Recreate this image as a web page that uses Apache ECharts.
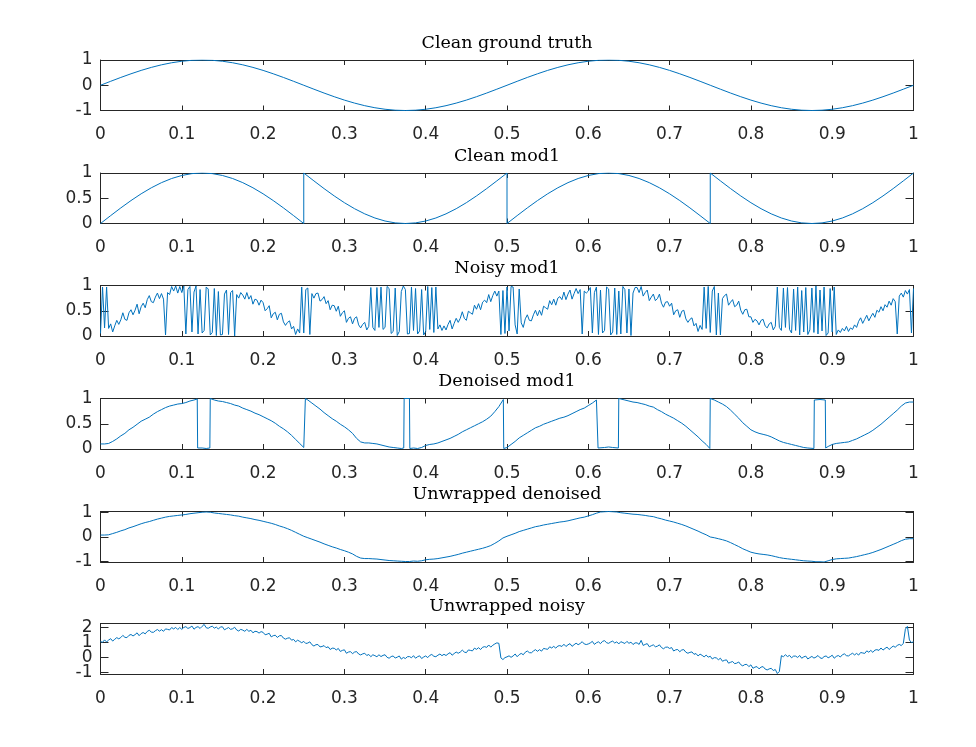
<!DOCTYPE html>
<html><head><meta charset="utf-8">
<script src="https://cdn.jsdelivr.net/npm/echarts@6/dist/echarts.min.js"></script>
<style>html,body{margin:0;padding:0;background:#fff;}#c{width:976px;height:747px;}</style>
</head><body><div id="c"></div>
<script>
// ---------------- data ----------------
const titles = ['Clean ground truth','Clean mod1','Noisy mod1','Denoised mod1','Unwrapped denoised','Unwrapped noisy'];
const yRanges = [[-1,1],[0,1],[0,1],[0,1],[-1.02,1.04],[-1.11,2.25]];
const yTickValues = [[-1,0,1],[0,0.5,1],[0,0.5,1],[0,0.5,1],[-1,0,1],[-1,0,1,2]];

// clean ground truth, 81 evenly spaced samples on [0,1]
const cleanTruth = [
 0,.156,.309,.454,.588,.707,.809,.891,.951,.988,1,.988,.951,.891,.809,.707,.588,.454,.309,.156,
 0,-.156,-.309,-.454,-.588,-.707,-.809,-.891,-.951,-.988,-1,-.988,-.951,-.891,-.809,-.707,-.588,-.454,-.309,-.156,
 0,.156,.309,.454,.588,.707,.809,.891,.951,.988,1,.988,.951,.891,.809,.707,.588,.454,.309,.156,
 0,-.156,-.309,-.454,-.588,-.707,-.809,-.891,-.951,-.988,-1,-.988,-.951,-.891,-.809,-.707,-.588,-.454,-.309,-.156,0];

// clean mod1, [x, y] pairs (wrap jumps are vertical)
const cleanMod1 = [
 [0,0],[0.0125,.156],[0.025,.309],[0.0375,.454],[0.05,.588],[0.0625,.707],[0.075,.809],[0.0875,.891],[0.1,.951],[0.1125,.988],
 [0.125,1],[0.1375,.988],[0.15,.951],[0.1625,.891],[0.175,.809],[0.1875,.707],[0.2,.588],[0.2125,.454],[0.225,.309],[0.2375,.156],
 [0.25,0],[0.25,1],[0.2625,.844],[0.275,.691],[0.2875,.546],[0.3,.412],[0.3125,.293],[0.325,.191],[0.3375,.109],[0.35,.049],[0.3625,.012],
 [0.375,0],[0.3875,.012],[0.4,.049],[0.4125,.109],[0.425,.191],[0.4375,.293],[0.45,.412],[0.4625,.546],[0.475,.691],[0.4875,.844],
 [0.5,1],[0.5,0],[0.5125,.156],[0.525,.309],[0.5375,.454],[0.55,.588],[0.5625,.707],[0.575,.809],[0.5875,.891],[0.6,.951],[0.6125,.988],
 [0.625,1],[0.6375,.988],[0.65,.951],[0.6625,.891],[0.675,.809],[0.6875,.707],[0.7,.588],[0.7125,.454],[0.725,.309],[0.7375,.156],
 [0.75,0],[0.75,1],[0.7625,.844],[0.775,.691],[0.7875,.546],[0.8,.412],[0.8125,.293],[0.825,.191],[0.8375,.109],[0.85,.049],[0.8625,.012],
 [0.875,0],[0.8875,.012],[0.9,.049],[0.9125,.109],[0.925,.191],[0.9375,.293],[0.95,.412],[0.9625,.546],[0.975,.691],[0.9875,.844],[1,1]];

// noisy mod1, 401 evenly spaced samples on [0,1]
const noisyMod1 = [
 0.05,0.97,0.16,0.97,0.15,0.24,0.08,0.20,0.31,0.23,
 0.32,0.46,0.33,0.31,0.46,0.52,0.42,0.51,0.63,0.44,
 0.58,0.65,0.56,0.72,0.80,0.68,0.66,0.77,0.85,0.74,
 0.84,0.73,0.02,0.86,0.82,0.98,0.89,0.99,0.85,0.98,
 0.86,0.99,0.04,0.92,0.98,0.08,0.87,0.99,0.04,0.92,
 0.06,0.11,0.97,0.93,0.02,0.07,0.94,0.01,0.88,0.02,
 0.03,0.83,0.91,0.03,0.86,0.90,0.00,0.82,0.75,0.86,
 0.81,0.73,0.86,0.73,0.80,0.63,0.73,0.71,0.61,0.71,
 0.66,0.50,0.54,0.60,0.36,0.44,0.47,0.32,0.43,0.45,
 0.28,0.21,0.27,0.30,0.14,0.19,0.03,0.14,0.06,0.97,
 0.06,0.92,0.95,0.03,0.84,0.75,0.84,0.85,0.69,0.72,
 0.78,0.64,0.70,0.52,0.61,0.60,0.49,0.59,0.39,0.46,
 0.50,0.27,0.35,0.38,0.24,0.35,0.38,0.22,0.16,0.23,
 0.27,0.12,0.19,0.96,0.17,0.11,0.96,0.17,0.97,0.13,
 0.17,0.98,0.94,0.05,0.09,0.95,0.01,0.09,0.88,0.99,
 0.92,0.04,0.05,0.97,0.11,0.94,0.04,0.10,0.92,0.02,
 0.09,0.98,0.13,0.96,0.07,0.97,0.14,0.22,0.11,0.20,
 0.12,0.23,0.31,0.14,0.25,0.35,0.27,0.35,0.48,0.35,
 0.31,0.49,0.46,0.43,0.61,0.53,0.64,0.52,0.67,0.71,
 0.66,0.82,0.68,0.80,0.89,0.79,0.89,0.03,0.90,0.05,
 0.97,0.10,0.98,0.97,0.22,0.04,0.93,0.26,0.17,0.34,
 0.42,0.31,0.30,0.42,0.51,0.40,0.51,0.41,0.59,0.56,
 0.53,0.70,0.62,0.73,0.61,0.75,0.78,0.72,0.87,0.72,
 0.83,0.91,0.73,0.84,0.94,0.84,0.92,0.04,0.89,0.85,
 0.89,0.96,0.06,0.86,0.97,0.03,0.91,0.06,0.11,0.97,
 0.93,0.02,0.08,0.95,0.03,0.89,0.04,0.98,0.92,0.06,
 0.93,0.01,0.85,0.96,0.96,0.86,0.98,0.79,0.86,0.91,
 0.70,0.77,0.83,0.70,0.74,0.83,0.65,0.57,0.67,0.68,
 0.59,0.65,0.42,0.50,0.52,0.37,0.49,0.51,0.34,0.27,
 0.33,0.36,0.20,0.25,0.09,0.21,0.13,0.97,0.15,0.98,
 0.07,0.89,0.98,0.02,0.85,0.02,0.74,0.80,0.83,0.61,
 0.67,0.72,0.58,0.61,0.69,0.51,0.43,0.52,0.53,0.38,
 0.38,0.27,0.33,0.30,0.22,0.31,0.33,0.20,0.16,0.24,
 0.27,0.12,0.19,0.97,0.17,0.11,0.95,0.17,0.96,0.13,
 0.06,0.93,0.11,0.97,0.02,0.90,0.08,0.96,0.03,0.12,
 0.95,0.07,0.99,0.04,0.91,0.10,0.97,0.01,0.06,0.94,
 0.08,0.97,0.03,0.12,0.07,0.15,0.10,0.19,0.09,0.16,
 0.13,0.22,0.17,0.29,0.36,0.25,0.33,0.41,0.30,0.38,
 0.45,0.37,0.51,0.47,0.58,0.50,0.62,0.57,0.69,0.61,
 0.74,0.68,0.04,0.79,0.85,0.77,0.90,0.83,0.92,0.06,0.94];

// denoised mod1, [x, y] pairs
const denoisedMod1 = [
 [0,0.10],[0.005,0.10],[0.01,0.11],[0.015,0.15],[0.02,0.20],[0.025,0.26],[0.03,0.31],[0.035,0.38],[0.04,0.43],[0.045,0.49],
 [0.05,0.55],[0.055,0.59],[0.06,0.63],[0.065,0.69],[0.07,0.74],[0.075,0.78],[0.08,0.82],[0.085,0.85],[0.09,0.87],[0.095,0.89],
 [0.1,0.90],[0.105,0.92],[0.11,0.95],[0.115,0.97],[0.119,0.99],[0.1195,0.02],[0.125,0.02],[0.13,0.01],[0.1345,0.02],[0.135,1.0],
 [0.14,0.97],[0.145,0.95],[0.15,0.94],[0.155,0.92],[0.16,0.90],[0.165,0.87],[0.17,0.85],[0.175,0.81],[0.18,0.78],[0.185,0.75],
 [0.19,0.71],[0.195,0.68],[0.2,0.64],[0.205,0.60],[0.21,0.56],[0.215,0.51],[0.22,0.45],[0.225,0.40],[0.23,0.34],[0.235,0.27],
 [0.24,0.19],[0.245,0.11],[0.25,0.03],[0.2515,0.0],[0.252,1.0],[0.255,0.97],[0.26,0.91],[0.265,0.85],[0.27,0.79],[0.275,0.72],
 [0.28,0.66],[0.285,0.60],[0.29,0.55],[0.295,0.49],[0.3,0.44],[0.305,0.38],[0.31,0.31],[0.315,0.21],[0.32,0.14],[0.325,0.12],
 [0.33,0.12],[0.335,0.11],[0.34,0.10],[0.345,0.08],[0.35,0.06],[0.355,0.04],[0.36,0.03],[0.365,0.02],[0.37,0.01],[0.373,0.02],
 [0.3735,1.0],[0.38,1.0],[0.3805,0.01],[0.385,0.02],[0.39,0.01],[0.395,0.03],[0.4,0.07],[0.405,0.09],[0.41,0.10],[0.415,0.12],
 [0.42,0.15],[0.425,0.18],[0.43,0.21],[0.435,0.25],[0.44,0.29],[0.445,0.34],[0.45,0.38],[0.455,0.42],[0.46,0.46],[0.465,0.50],
 [0.47,0.54],[0.475,0.59],[0.48,0.65],[0.485,0.74],[0.49,0.84],[0.4955,0.98],[0.496,0.01],[0.5,0.03],[0.505,0.09],[0.51,0.15],
 [0.515,0.22],[0.52,0.27],[0.525,0.32],[0.53,0.37],[0.535,0.42],[0.54,0.45],[0.545,0.49],[0.55,0.52],[0.555,0.55],[0.56,0.58],
 [0.565,0.61],[0.57,0.63],[0.575,0.66],[0.58,0.70],[0.585,0.74],[0.59,0.78],[0.595,0.81],[0.6,0.86],[0.605,0.91],[0.61,0.97],
 [0.6115,0.99],[0.612,0.02],[0.62,0.03],[0.625,0.04],[0.63,0.03],[0.637,0.02],[0.6375,1.0],[0.64,0.99],[0.645,0.97],[0.65,0.95],
 [0.655,0.93],[0.66,0.92],[0.665,0.90],[0.67,0.88],[0.675,0.85],[0.68,0.83],[0.685,0.78],[0.69,0.74],[0.695,0.69],[0.7,0.65],
 [0.705,0.61],[0.71,0.56],[0.715,0.51],[0.72,0.45],[0.725,0.38],[0.73,0.31],[0.735,0.24],[0.74,0.16],[0.745,0.09],[0.7495,0.01],
 [0.75,1.0],[0.755,0.97],[0.76,0.93],[0.765,0.89],[0.77,0.84],[0.775,0.77],[0.78,0.69],[0.785,0.61],[0.79,0.52],[0.795,0.45],
 [0.8,0.38],[0.805,0.34],[0.81,0.31],[0.815,0.29],[0.82,0.27],[0.825,0.24],[0.83,0.20],[0.835,0.16],[0.84,0.13],[0.845,0.11],
 [0.85,0.09],[0.855,0.07],[0.86,0.05],[0.865,0.03],[0.87,0.02],[0.8775,0.01],[0.878,0.97],[0.885,0.98],[0.8915,0.97],[0.892,0.02],
 [0.895,0.05],[0.9,0.09],[0.905,0.11],[0.91,0.12],[0.915,0.13],[0.92,0.14],[0.925,0.17],[0.93,0.20],[0.935,0.24],[0.94,0.28],
 [0.945,0.32],[0.95,0.37],[0.955,0.43],[0.96,0.49],[0.965,0.56],[0.97,0.63],[0.975,0.70],[0.98,0.77],[0.985,0.85],[0.99,0.91],
 [0.995,0.93],[1.0,0.93]];

// unwrapped denoised, 201 evenly spaced samples on [0,1]
const unwrappedDenoised = [
 0.08,0.08,0.09,0.14,0.19,0.25,0.30,0.37,0.42,0.48,
 0.54,0.59,0.63,0.68,0.73,0.77,0.81,0.84,0.86,0.88,
 0.90,0.92,0.95,0.97,0.99,1.01,1.02,1.01,0.98,0.96,
 0.94,0.92,0.90,0.87,0.85,0.81,0.78,0.75,0.71,0.68,
 0.64,0.60,0.56,0.51,0.45,0.40,0.34,0.27,0.19,0.11,
 0.03,-0.03,-0.09,-0.15,-0.21,-0.28,-0.34,-0.40,-0.45,-0.51,
 -0.56,-0.62,-0.69,-0.79,-0.86,-0.88,-0.88,-0.89,-0.90,-0.92,
 -0.94,-0.96,-0.97,-0.98,-0.99,-1.00,-1.00,-0.98,-0.99,-0.97,
 -0.93,-0.91,-0.90,-0.88,-0.85,-0.82,-0.79,-0.75,-0.71,-0.66,
 -0.62,-0.58,-0.54,-0.50,-0.46,-0.41,-0.35,-0.26,-0.16,-0.04,
 0.03,0.09,0.15,0.22,0.27,0.32,0.37,0.42,0.45,0.49,
 0.52,0.55,0.58,0.61,0.63,0.66,0.70,0.74,0.78,0.81,
 0.86,0.91,0.97,1.02,1.03,1.04,1.03,1.02,0.99,0.97,
 0.95,0.93,0.92,0.90,0.88,0.85,0.83,0.78,0.74,0.69,
 0.65,0.61,0.56,0.51,0.45,0.38,0.31,0.24,0.16,0.09,
 0.00,-0.03,-0.07,-0.11,-0.16,-0.23,-0.31,-0.39,-0.48,-0.55,
 -0.62,-0.66,-0.69,-0.71,-0.73,-0.76,-0.80,-0.84,-0.87,-0.89,
 -0.91,-0.93,-0.95,-0.97,-0.98,-0.99,-1.01,-1.01,-1.02,-0.97,
 -0.92,-0.89,-0.88,-0.87,-0.86,-0.83,-0.80,-0.76,-0.72,-0.68,
 -0.63,-0.57,-0.51,-0.44,-0.37,-0.30,-0.23,-0.15,-0.09,-0.07,
 -0.07];

// unwrapped noisy, 401 evenly spaced samples on [0,1]
const unwrappedNoisy = [
 1.05,1.00,1.16,1.02,1.15,1.24,1.08,1.20,1.31,1.23,
 1.32,1.46,1.33,1.31,1.46,1.52,1.42,1.51,1.63,1.44,
 1.58,1.65,1.56,1.72,1.80,1.68,1.66,1.77,1.85,1.74,
 1.84,1.73,1.89,1.86,1.82,1.98,1.89,1.99,1.85,1.98,
 1.86,1.99,2.04,1.92,1.98,2.08,1.87,1.99,2.04,1.92,
 2.06,2.19,1.97,1.93,2.02,2.07,1.94,2.01,1.88,2.02,
 2.03,1.83,1.91,1.98,1.86,1.90,2.00,1.82,1.75,1.86,
 1.81,1.73,1.86,1.73,1.80,1.63,1.73,1.71,1.61,1.71,
 1.66,1.50,1.54,1.60,1.36,1.44,1.47,1.32,1.43,1.45,
 1.28,1.21,1.27,1.30,1.14,1.19,1.03,1.14,1.06,0.97,
 1.06,0.92,0.95,1.03,0.84,0.75,0.84,0.85,0.69,0.72,
 0.78,0.64,0.70,0.52,0.61,0.60,0.49,0.59,0.39,0.46,
 0.50,0.27,0.35,0.38,0.24,0.35,0.38,0.22,0.16,0.23,
 0.27,0.12,0.19,0.04,0.17,0.11,0.04,0.17,0.05,0.13,
 0.17,0.00,-0.06,0.05,0.09,-0.05,0.01,0.09,-0.12,-0.01,
 -0.08,0.04,0.05,-0.03,0.11,-0.06,0.04,0.10,-0.08,0.02,
 0.09,-0.02,0.13,0.19,0.07,0.04,0.14,0.22,0.11,0.20,
 0.12,0.23,0.31,0.14,0.25,0.35,0.27,0.35,0.48,0.35,
 0.31,0.49,0.46,0.43,0.61,0.53,0.64,0.52,0.67,0.71,
 0.66,0.82,0.68,0.80,0.89,0.96,0.93,-0.04,-0.15,-0.02,
 0.03,0.10,0.00,0.09,0.22,0.04,0.18,0.26,0.17,0.34,
 0.42,0.31,0.30,0.42,0.51,0.40,0.51,0.41,0.59,0.56,
 0.53,0.70,0.62,0.73,0.61,0.75,0.78,0.72,0.87,0.72,
 0.83,0.91,0.73,0.84,0.94,0.84,0.92,1.04,0.89,0.85,
 0.89,0.96,1.06,0.86,0.97,1.03,0.91,1.06,1.11,0.97,
 0.93,1.02,1.08,0.95,1.03,0.89,1.04,0.98,0.92,1.06,
 0.93,1.01,0.85,0.96,0.96,0.86,1.13,0.79,0.86,0.91,
 0.70,0.77,0.83,0.70,0.74,0.83,0.65,0.57,0.67,0.68,
 0.59,0.65,0.42,0.50,0.52,0.37,0.49,0.51,0.34,0.27,
 0.33,0.36,0.20,0.25,0.09,0.21,0.13,0.03,0.15,0.01,
 0.07,-0.11,-0.02,-0.04,-0.16,-0.06,-0.26,-0.20,-0.17,-0.39,
 -0.33,-0.28,-0.42,-0.39,-0.31,-0.49,-0.57,-0.48,-0.47,-0.62,
 -0.50,-0.73,-0.65,-0.62,-0.77,-0.65,-0.62,-0.78,-0.84,-0.77,
 -0.73,-0.88,-0.81,-1.08,-0.94,0.11,0.04,0.17,0.05,0.13,
 -0.03,0.08,0.08,-0.01,0.12,-0.06,0.03,0.08,-0.11,-0.02,
 0.06,-0.05,0.01,0.12,-0.03,-0.08,0.05,0.09,-0.03,0.04,
 0.14,-0.06,0.06,0.12,0.02,0.17,0.23,0.11,0.09,0.19,
 0.27,0.16,0.26,0.15,0.32,0.29,0.26,0.43,0.34,0.46,
 0.33,0.48,0.51,0.46,0.62,0.48,0.59,0.68,0.52,0.64,
 0.75,0.67,0.79,0.86,0.78,0.93,1.87,2.06,1.15,0.98,1.03];

// ---------------- chart ----------------
// pair evenly spaced samples with their sample position on [0,1]
function sampled(values){ return values.map((v,i)=>[i/(values.length-1), v]); }
const seriesData = [sampled(cleanTruth), cleanMod1, sampled(noisyMod1), denoisedMod1, sampled(unwrappedDenoised), sampled(unwrappedNoisy)];

const tops = [60,173,285.5,398.5,511.5,623.5];
const H = 50.5, LEFT = 100.5, W = 813;
const axisCol = '#262626';
const lineCol = '#0072BD';
const tickFont = {fontFamily:'DejaVu Sans', fontSize:17, color:axisCol};

const grid=[], xAxis=[], yAxis=[], series=[], title=[];
titles.forEach((t,i)=>{
  grid.push({left:LEFT, top:tops[i], width:W, height:H, outerBoundsMode:'none', containLabel:false});
  const xBase = {type:'value', gridIndex:i, min:0, max:1, interval:0.1, splitLine:{show:false},
    axisLine:{show:true, onZero:false, lineStyle:{color:axisCol, width:1}},
    axisTick:{show:true, inside:true, length:5, lineStyle:{color:axisCol, width:1}}};
  xAxis.push(Object.assign({}, xBase, {position:'bottom',
    axisLabel:Object.assign({show:true, margin:16, hideOverlap:false}, tickFont)}));
  xAxis.push(Object.assign({}, xBase, {position:'top', axisLabel:{show:false}}));
  const ticks = yTickValues[i];
  const evenTicks = ticks.filter((v,j)=>j%2===0), oddTicks = ticks.filter((v,j)=>j%2===1);
  const yBase = {type:'value', gridIndex:i, min:yRanges[i][0], max:yRanges[i][1], splitLine:{show:false},
    axisLine:{show:true, onZero:false, lineStyle:{color:axisCol, width:1}},
    axisTick:{show:true, inside:true, length:8, customValues:ticks, lineStyle:{color:axisCol, width:1}}};
  const labelStyle = Object.assign({show:true, margin:8, interval:0, hideOverlap:false, showMinLabel:true, showMaxLabel:true}, tickFont);
  // left axis with line, ticks and every other label
  yAxis.push(Object.assign({}, yBase, {position:'left', axisLabel:Object.assign({}, labelStyle, {customValues:evenTicks})}));
  // right mirrored axis (box + inner ticks)
  yAxis.push(Object.assign({}, yBase, {position:'right', axisLabel:{show:false}}));
  // left label-only axis for the remaining labels (avoids label culling on tight axes)
  yAxis.push(Object.assign({}, yBase, {position:'left', axisLine:{show:false}, axisTick:{show:false},
    axisLabel:Object.assign({}, labelStyle, {customValues:oddTicks})}));
  series.push({type:'line', xAxisIndex:2*i, yAxisIndex:3*i, data:seriesData[i], showSymbol:false, symbol:'none',
    lineStyle:{color:lineCol, width:1}, animation:false, silent:true, clip:true});
  title.push({text:t, left:LEFT+W/2, top:tops[i]-26, textAlign:'center', padding:0,
    textStyle:{fontFamily:'DejaVu Serif', fontSize:17.5, fontWeight:'normal', color:'#000'}});
});

const chart = echarts.init(document.getElementById('c'), null, {renderer:'canvas'});
chart.setOption({backgroundColor:'#fff', animation:false, title, grid, xAxis, yAxis, series});
</script></body></html>
